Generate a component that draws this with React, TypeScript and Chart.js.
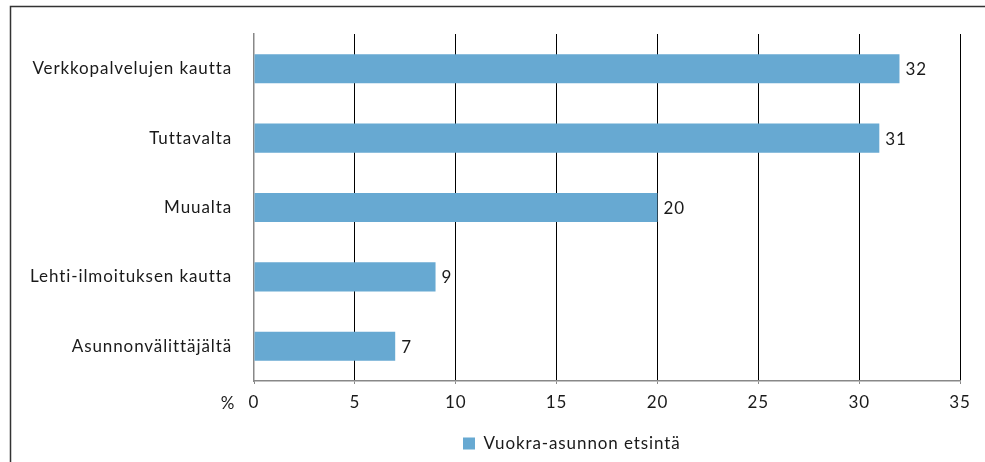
import React, { useEffect, useRef } from "react";
import { Chart, registerables } from "chart.js";

Chart.register(...registerables);

const categories = [
  "Verkkopalvelujen kautta",
  "Tuttavalta",
  "Muualta",
  "Lehti-ilmoituksen kautta",
  "Asunnonvälittäjältä",
];
const seriesName = "Vuokra-asunnon etsintä";
const values = [32, 31, 20, 9, 7];
const xMin = 0;
const xMax = 35;
const xStep = 5;
const unitLabel = "%";

const FONT = "Lato, 'Open Sans', sans-serif";
const TEXT = "#1a1a1a";
const BAR = "#67A9D2";
const SPACING = "0.9px";

const setSpacing = (chart: any) => {
  const ctx: any = chart.ctx;
  if (ctx && "letterSpacing" in ctx) ctx.letterSpacing = SPACING;
};

const framePlugin = {
  id: "frame",
  beforeLayout(chart: any) {
    setSpacing(chart);
  },
  beforeDraw(chart: any) {
    const ctx = chart.ctx;
    ctx.save();
    ctx.fillStyle = "#fff";
    ctx.fillRect(0, 0, chart.width, chart.height);
    ctx.strokeStyle = "#333";
    ctx.lineWidth = 1.5;
    ctx.beginPath();
    ctx.moveTo(10.5, chart.height);
    ctx.lineTo(10.5, 6.5);
    ctx.lineTo(chart.width, 6.5);
    ctx.stroke();
    ctx.restore();
    setSpacing(chart);
    // shift legend so its item starts where the reference has it
    const lg = chart.legend;
    if (lg && lg.legendHitBoxes && lg.legendHitBoxes.length) {
      const d = 463 - lg.legendHitBoxes[0].left;
      if (Math.abs(d) > 0.5) {
        lg.left += d;
        lg.right += d;
        lg.legendHitBoxes.forEach((h: any) => (h.left += d));
      }
    }
  },
};

const labelsPlugin = {
  id: "valueLabels",
  afterDatasetsDraw(chart: any) {
    const ctx = chart.ctx;
    ctx.save();
    ctx.font = `17px ${FONT}`;
    ctx.fillStyle = TEXT;
    ctx.textAlign = "left";
    ctx.textBaseline = "middle";
    const meta = chart.getDatasetMeta(0);
    meta.data.forEach((el: any, i: number) => {
      ctx.fillText(String(values[i]), el.x + 6, el.y + 1);
    });
    // unit label left of the x tick labels
    const xs = chart.scales.x;
    ctx.textAlign = "center";
    ctx.fillText(unitLabel, 228, xs.top + 23);
    ctx.restore();
  },
};

export default function App() {
  const ref = useRef<HTMLCanvasElement>(null);
  useEffect(() => {
    if (!ref.current) return;
    const chart = new Chart(ref.current, {
      type: "bar",
      data: {
        labels: categories,
        datasets: [
          {
            label: seriesName,
            data: values,
            backgroundColor: BAR,
            borderWidth: 0,
            categoryPercentage: 1,
            barPercentage: 0.42,
          },
        ],
      },
      options: {
        indexAxis: "y",
        animation: false,
        responsive: false,
        maintainAspectRatio: false,
        layout: { padding: { top: 34, right: 25, left: 0, bottom: 0 } },
        scales: {
          x: {
            min: xMin,
            max: xMax,
            ticks: {
              stepSize: xStep,
              color: TEXT,
              font: { family: FONT, size: 17 },
              padding: 8,
            },
            grid: {
              color: (c: any) => (c.tick && c.tick.value === 0 ? "rgba(0,0,0,0)" : "#000"),
              lineWidth: 1,
              tickColor: "#888",
              tickLength: 3,
              drawOnChartArea: true,
            },
            border: { display: true, color: "#888", width: 1.5 },
            afterFit: (s: any) => {
              s.height = 44;
            },
          },
          y: {
            ticks: {
              color: TEXT,
              font: { family: FONT, size: 17 },
              padding: 22,
            },
            grid: { display: false, drawTicks: false },
            border: { display: true, color: "#888", width: 1.5 },
            afterFit: (s: any) => {
              s.width = 254;
            },
          },
        },
        plugins: {
          legend: {
            position: "bottom",
            labels: {
              boxWidth: 12,
              boxHeight: 12,
              padding: 10,
              color: TEXT,
              font: { family: FONT, size: 17 },
            },
          },
          tooltip: { enabled: false },
        },
      },
      plugins: [framePlugin, labelsPlugin],
    });
    return () => chart.destroy();
  }, []);
  return (
    <div style={{ position: "fixed", left: 0, top: 0, width: 985, height: 462, background: "#fff" }}>
      <canvas ref={ref} width={985} height={462} style={{ width: 985, height: 462 }} />
    </div>
  );
}
